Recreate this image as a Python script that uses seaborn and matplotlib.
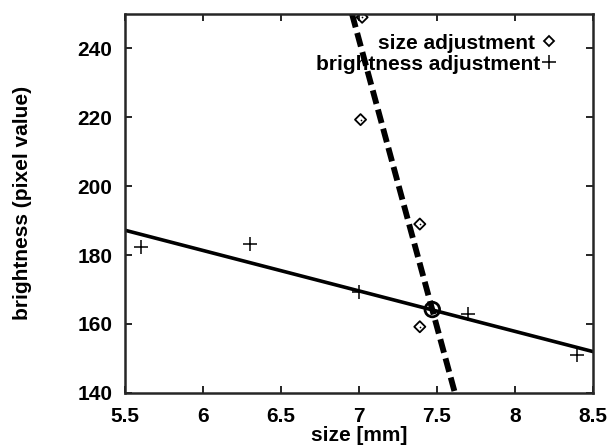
import matplotlib
matplotlib.use("Agg")
import matplotlib.pyplot as plt
import numpy as np
import pandas as pd
import seaborn as sns
from matplotlib.lines import Line2D

# measured points
bright_size = [5.6, 6.3, 7.0, 7.7, 8.4]
bright_val = [182.3, 183.3, 169.2, 162.8, 151.1]
size_size = [7.02, 7.01, 7.39, 7.39]
size_val = [249.0, 219.3, 189.0, 159.2]

# fitted lines (end points) and their crossing
bright_fit_x = [5.5, 8.5]
bright_fit_y = [187.2, 152.0]
size_fit_x = [6.955, 7.615]
size_fit_y = [250.0, 140.0]
cross_x = [7.47]
cross_y = [164.2]

sns.set_style("ticks")
plt.rcParams['font.family'] = ['Liberation Sans', 'DejaVu Sans']
plt.rcParams['font.weight'] = 'bold'
plt.rcParams['text.color'] = 'black'
plt.rcParams['axes.labelcolor'] = 'black'
plt.rcParams['xtick.color'] = 'black'
plt.rcParams['ytick.color'] = 'black'

fig = plt.figure(figsize=(6.1, 4.46), dpi=100)
ax = fig.add_axes([0.205, 0.119, 0.767, 0.85])

sns.lineplot(x=bright_fit_x, y=bright_fit_y, ax=ax, color='black', linewidth=2.6)
sns.lineplot(x=size_fit_x, y=size_fit_y, ax=ax, color='black', linewidth=4.2)
ax.lines[-1].set_dashes([2.4, 1.0])

sns.scatterplot(x=bright_size, y=bright_val, ax=ax, marker='+', color='black', s=110, linewidth=1.1)
sns.scatterplot(x=size_size, y=size_val, ax=ax, marker='D', s=32, facecolors='none', edgecolor='black', linewidth=1.3)
sns.scatterplot(x=size_size, y=size_val, ax=ax, marker='.', s=6, color='black', linewidth=0)
sns.scatterplot(x=cross_x, y=cross_y, ax=ax, marker='o', s=110, facecolors='none', edgecolor='black', linewidth=2)

ax.set_xlim(5.5, 8.5)
ax.set_ylim(140, 250)
ax.set_xticks([5.5, 6, 6.5, 7, 7.5, 8, 8.5])
ax.set_xticklabels(['5.5', '6', '6.5', '7', '7.5', '8', '8.5'])
ax.set_yticks([140, 160, 180, 200, 220, 240])
ax.tick_params(direction='in', top=True, right=True, length=5, width=1.2, labelsize=15)
ax.tick_params(axis='x', pad=10)
ax.tick_params(axis='y', pad=9)
for s in ax.spines.values():
    s.set_linewidth(1.8)

ax.set_xlabel('size [mm]', fontsize=15, fontweight='bold', labelpad=0)
ax.set_ylabel('brightness (pixel value)', fontsize=15, fontweight='bold', labelpad=33)

handles = [
    Line2D([], [], marker='D', linestyle='', markerfacecolor='none', markeredgecolor='black', markersize=5.5, markeredgewidth=1.3),
    Line2D([], [], marker='+', linestyle='', color='black', markersize=10, markeredgewidth=1.1),
]
ax.legend(handles, ['size adjustment ', 'brightness adjustment'], loc='upper right', frameon=False,
          markerfirst=False, handlelength=0.5, handletextpad=0.15, labelspacing=0.1,
          fontsize=15, bbox_to_anchor=(0.935, 0.97), borderaxespad=0)

fig.savefig('out.png', dpi=100)
